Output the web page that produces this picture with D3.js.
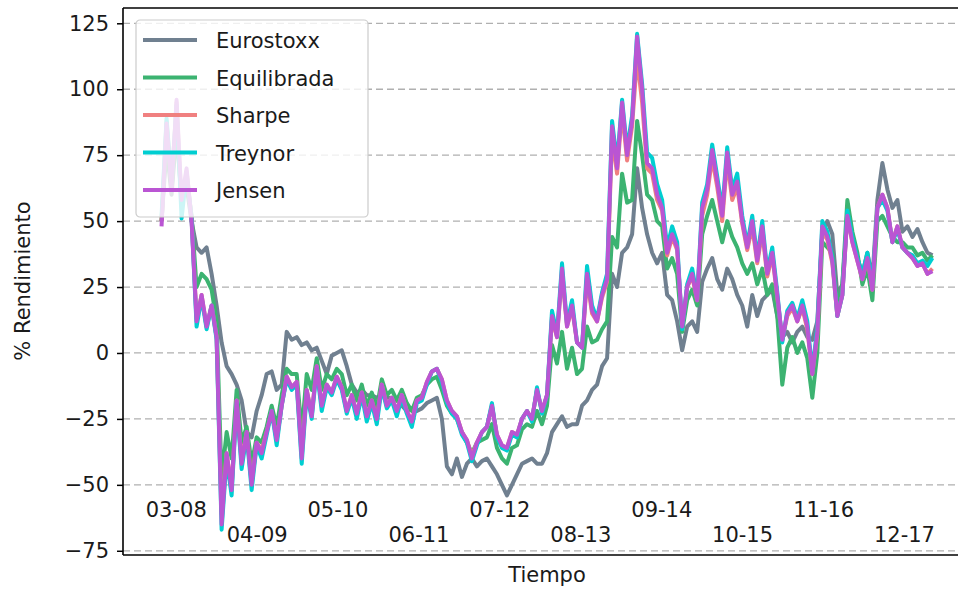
<!DOCTYPE html>
<html>
<head>
<meta charset="utf-8">
<script src="https://cdn.jsdelivr.net/npm/d3@7"></script>
<style>
  html, body { margin: 0; padding: 0; background: #fff; }
  svg { display: block; font-family: "DejaVu Sans", sans-serif; }
</style>
</head>
<body>
<svg id="chart" width="958" height="589"></svg>
<script>
// Sampling window of the return series (evenly spaced observations)
const startDate = new Date(2007, 11, 20);
const endDate = new Date(2018, 3, 17);

// Cumulative return (%) of each portfolio
const eurostoxx = [
  50, 78, 60, 84, 58, 63, 50, 40, 38, 40,
  30, 18, 4, -5, -8, -12, -18, -30, -32, -22,
  -16, -8, -7, -14, -12, 8, 5, 6, 3, 4,
  1, 2, -3, -8, -1, 0, 1, -5, -12, -15,
  -14, -16, -16, -17, -16, -17, -17, -18, -20, -22,
  -21, -22, -21, -19, -18, -17, -25, -43, -46, -40,
  -47, -42, -40, -43, -41, -40, -43, -46, -50, -54,
  -50, -46, -42, -41, -40, -42, -42, -38, -30, -27,
  -24, -28, -27, -27, -20, -18, -14, -12, -5, -2,
  30, 25, 38, 40, 45, 70, 55, 45, 38, 34,
  38, 22, 20, 12, 1, 10, 12, 8, 27, 32,
  36, 28, 24, 32, 28, 22, 18, 10, 22, 14,
  20, 22, 24, 14, 6, 8, 4, 8, 10, 6,
  5, 12, 46, 50, 45, 22, 26, 52, 44, 36,
  30, 38, 28, 58, 72, 62, 55, 58, 46, 48,
  44, 47, 42, 38, 37
];
const equilibrada = [
  50, 82, 62, 88, 57, 66, 52, 25, 30, 28,
  24, 12, -48, -30, -40, -14, -34, -28, -42, -32,
  -34, -28, -20, -28, -16, -6, -8, -8, -30, -8,
  -14, -2, -14, -8, -10, -6, -8, -16, -12, -18,
  -12, -20, -15, -21, -10, -16, -14, -18, -14, -19,
  -22, -17, -16, -12, -10, -9, -14, -20, -23, -25,
  -30, -34, -38, -34, -33, -32, -27, -36, -40, -42,
  -36, -35, -29, -27, -28, -22, -27, -20, 3, -4,
  8, -6, 2, -8, -6, 10, 4, 5, 9, 12,
  44, 40, 68, 57, 58, 88, 75, 60, 58, 50,
  48, 32, 36, 30, 8, 20, 24, 18, 45, 52,
  58, 50, 42, 50, 44, 40, 34, 30, 34, 26,
  32, 22, 26, 14, -12, 2, 6, 0, 4, -2,
  -17, 0, 42, 40, 38, 18, 26, 58, 46, 38,
  26, 32, 20, 50, 52, 48, 44, 42, 42, 40,
  40, 37, 38, 35, 37
];
const sharpe = [
  50, 88, 63, 95, 56, 69, 51, 13, 22, 10,
  18, 6, -61, -38, -51, -18, -41, -30, -49, -34,
  -37, -30, -22, -33, -20, -9, -13, -11, -38, -14,
  -23, -5, -20, -12, -15, -9, -13, -22, -16, -23,
  -15, -24, -18, -25, -12, -20, -17, -22, -16, -22,
  -26, -18, -17, -11, -7, -6, -10, -18, -22, -24,
  -30, -33, -39, -34, -30, -28, -20, -31, -35, -36,
  -30, -31, -25, -22, -25, -14, -22, -16, 13, 6,
  30, 10, 17, 4, 2, 28, 15, 12, 21, 27,
  82, 68, 92, 73, 86, 112, 95, 70, 68, 58,
  54, 37, 44, 39, 10, 25, 29, 20, 52, 60,
  74, 63, 50, 73, 58, 63, 49, 39, 48, 34,
  46, 29, 37, 21, 5, 14, 17, 12, 17, 9,
  -8, 7, 46, 43, 34, 14, 22, 52, 42, 35,
  28, 36, 24, 55, 60, 55, 42, 48, 40, 38,
  36, 33, 34, 30, 32
];
const treynor = [
  52, 89, 64, 94, 51, 68, 51, 10, 21, 9,
  18, 5, -67, -40, -54, -19, -44, -31, -52, -35,
  -40, -31, -22, -35, -20, -10, -14, -12, -42, -15,
  -25, -6, -22, -13, -16, -10, -14, -23, -17, -25,
  -16, -26, -19, -27, -13, -21, -18, -24, -17, -23,
  -28, -19, -18, -12, -7, -6, -11, -19, -23, -25,
  -31, -34, -41, -35, -30, -28, -19, -32, -36, -37,
  -31, -32, -25, -22, -26, -13, -23, -16, 16, 7,
  34, 11, 20, 4, 2, 33, 18, 13, 23, 30,
  88, 72, 96, 77, 90, 121, 102, 76, 74, 64,
  58, 40, 48, 42, 9, 26, 32, 21, 57, 64,
  79, 67, 54, 78, 62, 68, 52, 41, 52, 36,
  50, 31, 40, 23, 4, 16, 19, 13, 20, 12,
  -7, 10, 50, 46, 36, 14, 22, 54, 44, 36,
  30, 38, 26, 55, 58, 54, 42, 47, 40, 38,
  37, 34, 35, 33, 36
];
const jensen = [
  48, 87, 62, 96, 58, 70, 50, 12, 22, 10,
  18, 6, -65, -38, -52, -18, -42, -30, -50, -34,
  -38, -30, -22, -33, -20, -9, -13, -11, -40, -14,
  -24, -5, -20, -12, -15, -9, -13, -22, -16, -23,
  -15, -24, -18, -25, -12, -20, -17, -22, -16, -22,
  -26, -18, -17, -11, -7, -6, -10, -18, -22, -24,
  -30, -33, -40, -34, -30, -28, -20, -31, -35, -36,
  -30, -31, -25, -22, -25, -14, -22, -16, 14, 6,
  32, 10, 18, 4, 2, 30, 16, 12, 22, 28,
  86, 70, 95, 75, 88, 120, 100, 72, 70, 60,
  55, 38, 45, 40, 10, 25, 30, 20, 55, 62,
  77, 65, 52, 76, 60, 65, 50, 40, 50, 35,
  48, 30, 38, 22, 5, 15, 18, 12, 18, 10,
  -8, 8, 48, 44, 35, 14, 22, 52, 42, 35,
  28, 36, 24, 55, 60, 55, 42, 48, 40, 38,
  36, 33, 34, 30, 31
];

const seriesNames = ["Eurostoxx", "Equilibrada", "Sharpe", "Treynor", "Jensen"];
const seriesColors = ["#708090", "#3cb371", "#f08080", "#00ced1", "#ba55d3"];
const seriesValues = [eurostoxx, equilibrada, sharpe, treynor, jensen];

// Time tick positions and their labels
const tickDates = [
  new Date(2008, 2, 1), new Date(2009, 3, 1), new Date(2010, 4, 1),
  new Date(2011, 5, 1), new Date(2012, 6, 1), new Date(2013, 7, 1),
  new Date(2014, 8, 1), new Date(2015, 9, 1), new Date(2016, 10, 1),
  new Date(2017, 11, 1)
];
const yTicks = [-75, -50, -25, 0, 25, 50, 75, 100, 125];

const nPts = eurostoxx.length;
const span = endDate - startDate;
const dates = d3.range(nPts).map(i => new Date(+startDate + span * i / (nPts - 1)));

const svg = d3.select("#chart");
const W = 958, H = 589;
const plot = { left: 123, top: 8, right: 971, bottom: 555 };

svg.append("rect").attr("width", W).attr("height", H).attr("fill", "#fff");

const pad = span * 0.05;
const x = d3.scaleTime()
  .domain([new Date(+startDate - pad), new Date(+endDate + pad)])
  .range([plot.left, plot.right]);
const y = d3.scaleLinear()
  .domain([-76.6, 130.8])
  .range([plot.bottom, plot.top]);

// horizontal dashed grid
svg.append("g").selectAll("line")
  .data(yTicks).join("line")
  .attr("x1", plot.left).attr("x2", plot.right)
  .attr("y1", d => y(d)).attr("y2", d => y(d))
  .attr("stroke", "#b0b0b0").attr("stroke-width", 1.3)
  .attr("stroke-dasharray", "7,4");

// return lines
const line = d3.line()
  .x((d, i) => x(dates[i]))
  .y(d => y(d));

const linesG = svg.append("g");
seriesValues.forEach((vals, s) => {
  linesG.append("path")
    .datum(vals)
    .attr("d", line)
    .attr("fill", "none")
    .attr("stroke", seriesColors[s])
    .attr("stroke-width", 4)
    .attr("stroke-linejoin", "round");
});

// y axis
const yAxis = d3.axisLeft(y)
  .tickValues(yTicks)
  .tickSize(6)
  .tickPadding(8)
  .tickFormat(d => (d < 0 ? "\u2212" + Math.abs(d) : String(d)));
const yg = svg.append("g")
  .attr("transform", `translate(${plot.left},0)`)
  .call(yAxis);
yg.select(".domain").remove();
yg.selectAll(".tick line").attr("stroke", "#000").attr("stroke-width", 1.5);
yg.selectAll(".tick text")
  .attr("fill", "#1a1a1a")
  .style("font-family", "DejaVu Sans, sans-serif")
  .style("font-size", "21px");

// time labels, staggered on two rows inside the axes
svg.append("g").selectAll("text")
  .data(tickDates).join("text")
  .attr("x", d => x(d))
  .attr("y", (d, i) => (i % 2 === 0 ? 517 : 542))
  .attr("text-anchor", "middle")
  .attr("fill", "#1a1a1a")
  .style("font-size", "21px")
  .text(d => d3.timeFormat("%m-%y")(d));

// spines
const spines = svg.append("g").attr("stroke", "#000").attr("stroke-width", 1.6);
spines.append("line").attr("x1", plot.left).attr("x2", plot.left)
  .attr("y1", plot.top).attr("y2", plot.bottom);
spines.append("line").attr("x1", plot.left).attr("x2", plot.right)
  .attr("y1", plot.bottom).attr("y2", plot.bottom);
spines.append("line").attr("x1", plot.left).attr("x2", plot.right)
  .attr("y1", plot.top).attr("y2", plot.top);

// axis titles
svg.append("text")
  .attr("transform", "translate(30,281) rotate(-90)")
  .attr("text-anchor", "middle")
  .attr("fill", "#1a1a1a")
  .style("font-size", "21px")
  .text("% Rendimiento");
svg.append("text")
  .attr("x", 547).attr("y", 582)
  .attr("text-anchor", "middle")
  .attr("fill", "#1a1a1a")
  .style("font-size", "21px")
  .text("Tiempo");

// legend
const lg = svg.append("g").attr("transform", "translate(136,20)");
lg.append("rect")
  .attr("width", 232).attr("height", 197)
  .attr("rx", 4).attr("ry", 4)
  .attr("fill", "#fff").attr("fill-opacity", 0.8)
  .attr("stroke", "#cccccc").attr("stroke-width", 1.2);
seriesNames.forEach((name, i) => {
  const cy = 20 + i * 37.5;
  lg.append("line")
    .attr("x1", 7).attr("x2", 61)
    .attr("y1", cy).attr("y2", cy)
    .attr("stroke", seriesColors[i]).attr("stroke-width", 4);
  lg.append("text")
    .attr("x", 80).attr("y", cy + 8)
    .attr("fill", "#1a1a1a")
    .style("font-size", "21px")
    .text(name);
});
</script>
</body>
</html>
